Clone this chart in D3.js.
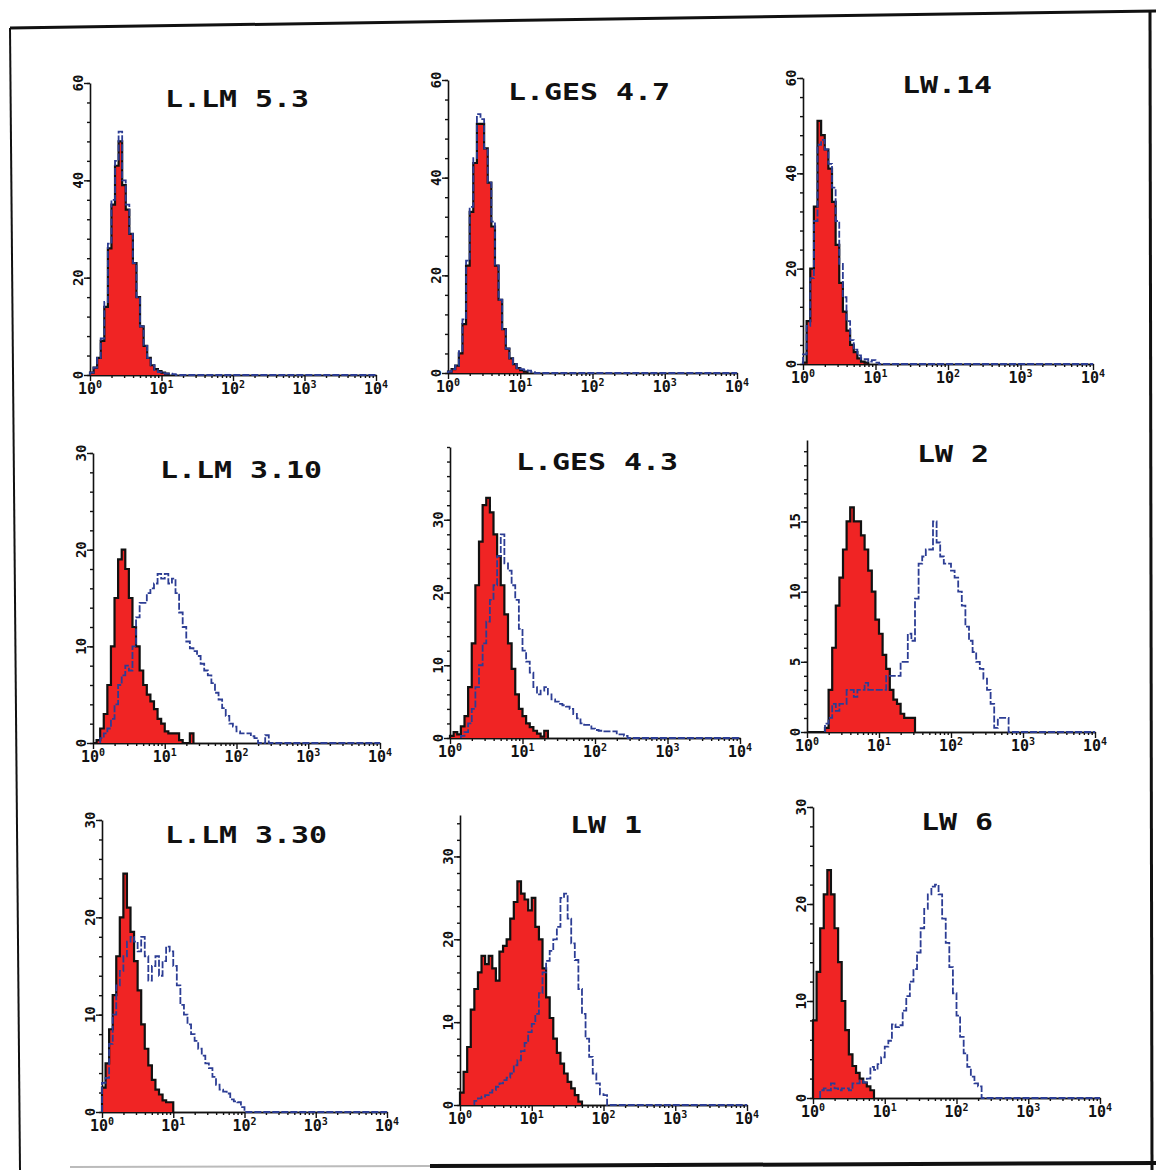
<!DOCTYPE html>
<html><head><meta charset="utf-8">
<script src="https://cdn.jsdelivr.net/npm/d3@7"></script>
<style>
html,body{margin:0;padding:0;background:#fff;}
svg{display:block;}
text{font-family:"DejaVu Sans Mono","Liberation Mono",monospace;font-weight:bold;fill:#111;}
</style></head><body>
<svg id="c" width="1156" height="1170"></svg>
<script>
// ---------- data ----------
const titles = ["L.LM 5.3","L.GES 4.7","LW.14","L.LM 3.10","L.GES 4.3","LW 2","L.LM 3.30","LW 1","LW 6"];
const yMaxes = [60,60,60,30,40,20.8,30,35,30];
const yLabelValues = [[0,20,40,60],[0,20,40,60],[0,20,40,60],[0,10,20,30],[0,10,20,30],[0,5,10,15],[0,10,20,30],[0,10,20,30],[0,10,20,30]];
const yMinorSteps = [4,4,4,2,2,1,2,2,2];
const xDecades = [1,10,100,1000,10000];
const xTickExponents = ["0","1","2","3","4"];
const binsPerDecade = 20;

const redCounts = [
  [0.5,1.5,3.5,7,14,26,35,43,48,39,34,29,23,16,10,6,3.5,2,1.2,0.8,0.5,0.3],
  [0.3,0.8,1.5,4,10,22,33,43,51,51,46,39,30,22,15,9,5,3,1.8,1,0.6,0.3],
  [0.3,9,20,33,51,48,45,41,34,25,17,11,7,4,2.5,1.2,0.5,0.3],
  [0,0.3,1.5,3,6,10,15,19,20,18,15,12,10,7.5,6,5,4.3,3.5,2.5,2,1.2,1,1,1,0.3,0,0,1],
  [0.3,0.8,0.5,1.6,3,7,13,21,27,32,33,31,28,25,21,17,13,9.5,6,4,3,2,1.5,1,0.6,0.2,1],
  [0,0,0,0,0,0.3,3,6,9,11,13,15,16,15,15,14,13,11.5,10,8,7,5.5,4.5,3,2.3,2,1.3,1,1,1],
  [2.5,5,8.5,12,16,20,24.5,21,18.5,15.5,12.5,9,6.5,4.8,3.3,2.3,1.8,1.2,1,1],
  [1.5,4,7,11.5,14,16,18,17,18,16.5,15,18.5,19.2,20,22.5,24.5,27,25.5,24.8,23.5,25,21.5,20,16.5,13,10.5,8,6.3,5,3.8,2.8,2,1.2,0.4],
  [8,13,17.5,21,23.5,21,17.5,14,10,7,4.5,3.3,2.6,2,1.6,1.2,0.8]
];
const blueCounts = [
  [0.5,1.5,3.5,7.5,15,27,36,44,50,40,35,29,23,16,10,6,3.5,2,1,0.6,0.4,0.3,0.3,0.2],
  [0.3,0.8,1.5,4.5,11,23,34,44,53,52,46,39,31,22,15,9,5,3,1.8,1,0.8,0.6,0.5,0.2],
  [2,8,18,30,46,47,45,42,37,30,21,14,9,5,3,1.8,1,1,0.5,0.8,0.3],
  [0,0,0.5,1,1.5,2.5,4,6,7,8,7.5,10,13,14.5,14.5,15.5,16,16.5,17.5,17,17.5,16.5,17,15.5,13.5,12,10.5,9.8,9.5,9,8.2,7.5,7,6.2,5.2,4.5,3.6,2.8,2,1.7,1.2,1,1,1,0.7,0.5,0,0,0.8],
  [0,0,0,0.3,0.8,2,4,7,10,13,16,19,21,25,28,24,23,21,19,15,12,10.5,9,7,6,6.5,7,6,5.3,5,4.7,4.5,4.3,4,3.3,2.7,2,1.8,1.8,1.3,1.1,1,0.9,0.9,0.9,0.9,0.5,0.5,0.3],
  [0,0,0,0,0,0.6,1,2,1.5,2,2,3,3,2.5,3,3,3.5,3,3,3,3,3,4,4,4,4,5,5,7,6.5,9.5,12,12.5,13,13,15,13.5,12.5,12,12,11.5,11,10,9,7.5,6.5,5.7,5,4.5,3.8,3,2,0.3,1,1,1],
  [3,3.5,7,10,13,14.5,16,17.5,18,17.5,16.5,18,16,13.5,15,16,14,15.5,17,16.5,15,13,11,10,9,8,7.3,6.5,5.8,5,4.5,3.6,2.8,2.3,2.1,1.9,1.3,1.1,1,0.5],
  [0,0,0,0,0.5,0.8,1,1.2,1.5,1.8,2.2,2.6,3,3.3,3.8,4.8,5.4,6.5,7.5,8.8,9.8,11,13.5,16,17.4,18.6,20,21.5,25,25.5,22.5,19.5,17.5,14,11,8,5.8,3.8,2.6,1.3,1.2],
  [0,0,0.8,1,0.8,1.5,1,0.8,1,1,0.8,1.5,1.5,1.8,1.6,2,3.2,2.9,3.5,4.2,5.3,5.9,7.6,7.3,7.5,9,10.5,12,13.3,15,17.5,19.5,21,21.8,22,21,18.5,16,13.5,10.8,8.5,6.3,4.6,3.2,2.2,1.5,1.2]
];

// ---------- layout (pixels) ----------
const layout = [
  {x0:90, x4:376, yb:375, yt:83,  tx:237, ty:107},
  {x0:448,x4:737, yb:373, yt:80,  tx:589, ty:100},
  {x0:803,x4:1093,yb:364, yt:78,  tx:947, ty:93},
  {x0:93, x4:380, yb:743, yt:453, tx:241, ty:478},
  {x0:450,x4:740, yb:738, yt:447, tx:597, ty:470},
  {x0:807,x4:1095,yb:732, yt:440, tx:953, ty:462},
  {x0:102,x4:387, yb:1112,yt:820, tx:246, ty:843},
  {x0:460,x4:747, yb:1105,yt:815, tx:606, ty:833},
  {x0:813,x4:1100,yb:1098,yt:807, tx:957, ty:830}
];

const RED = "#f02424", BLUE = "#2c3d94";
const svg = d3.select("#c");

// frame
const frame = svg.append("g").attr("fill","none").attr("stroke","#111");
frame.append("path").attr("d","M10,28 L1156,11").attr("stroke-width",3);
frame.append("path").attr("d","M10,28 L20,1170").attr("stroke-width",2);
frame.append("path").attr("d","M1150,12 L1152,1170").attr("stroke-width",3);
frame.append("path").attr("d","M70,1167 L430,1166").attr("stroke","#bbb").attr("stroke-width",2);
frame.append("path").attr("d","M430,1166 L1156,1163").attr("stroke-width",4);

const edge = i => Math.pow(10, i / binsPerDecade);
const totalBins = 4 * binsPerDecade;

titles.forEach((title, p) => {
  const L = layout[p];
  const g = svg.append("g");
  const x = d3.scaleLog().domain([1, 1e4]).range([L.x0, L.x4]);
  const y = d3.scaleLinear().domain([0, yMaxes[p]]).range([L.yb, L.yt]);

  // y axis
  const minor = d3.range(0, yMaxes[p] + 1e-6, yMinorSteps[p]);
  g.append("g").attr("transform", `translate(${L.x0},0)`)
    .call(d3.axisLeft(y).tickValues(minor).tickSize(3).tickSizeOuter(0).tickFormat(""));
  g.append("g").attr("transform", `translate(${L.x0},0)`)
    .call(d3.axisLeft(y).tickValues(yLabelValues[p]).tickSize(6).tickSizeOuter(0).tickFormat(""))
    .select(".domain").remove();
  yLabelValues[p].forEach(v => {
    g.append("text").attr("transform", `translate(${L.x0 - 7},${y(v)}) rotate(-90)`)
      .attr("text-anchor","middle").attr("font-size",14).text(v);
  });

  // x axis
  const xminor = [];
  for (let d = 0; d < 4; d++) for (let k = 2; k <= 9; k++) xminor.push(k * Math.pow(10, d));
  g.append("g").attr("transform", `translate(0,${L.yb})`)
    .call(d3.axisBottom(x).tickValues(xminor).tickSize(3).tickSizeOuter(0).tickFormat(""));
  g.append("g").attr("transform", `translate(0,${L.yb})`)
    .call(d3.axisBottom(x).tickValues(xDecades).tickSize(6).tickSizeOuter(0).tickFormat(""));
  xDecades.forEach((v, i) => {
    const t = g.append("text").attr("x", x(v)).attr("y", L.yb + 19)
      .attr("text-anchor","middle").attr("font-size",15);
    t.append("tspan").text("10");
    t.append("tspan").attr("dy",-6).attr("font-size",10).text(xTickExponents[i]);
  });
  g.selectAll(".domain").attr("stroke","#111").attr("stroke-width",1.6);
  g.selectAll(".tick line").attr("stroke","#111").attr("stroke-width",1.4);

  // red histogram
  const rc = redCounts[p];
  const rpts = rc.map((v, i) => [edge(i), v]);
  rpts.push([edge(rc.length), 0]);
  g.append("path").datum(rpts)
    .attr("d", d3.area().curve(d3.curveStepAfter).x(d => x(d[0])).y0(L.yb).y1(d => y(d[1])))
    .attr("fill", RED);
  const rline = [[edge(0), 0]].concat(rpts);
  g.append("path").datum(rline)
    .attr("d", d3.line().curve(d3.curveStepAfter).x(d => x(d[0])).y(d => y(d[1])))
    .attr("fill","none").attr("stroke","#111").attr("stroke-width",2.2);

  // blue histogram (outline only)
  const bc = blueCounts[p];
  const s = bc.findIndex(v => v > 0);
  const bpts = [[edge(s), 0]];
  for (let i = s; i < totalBins; i++) bpts.push([edge(i), i < bc.length ? bc[i] : 0]);
  bpts.push([edge(totalBins), 0]);
  g.append("path").datum(bpts)
    .attr("d", d3.line().curve(d3.curveStepAfter).x(d => x(d[0])).y(d => y(d[1])))
    .attr("fill","none").attr("stroke", BLUE).attr("stroke-width",1.8)
    .attr("stroke-dasharray","7,2");

  // title
  g.append("text").attr("transform", `translate(${L.tx},${L.ty}) scale(1.3,1)`)
    .attr("text-anchor","middle").attr("font-size",23)
    .text(title);
});
</script>
</body></html>
